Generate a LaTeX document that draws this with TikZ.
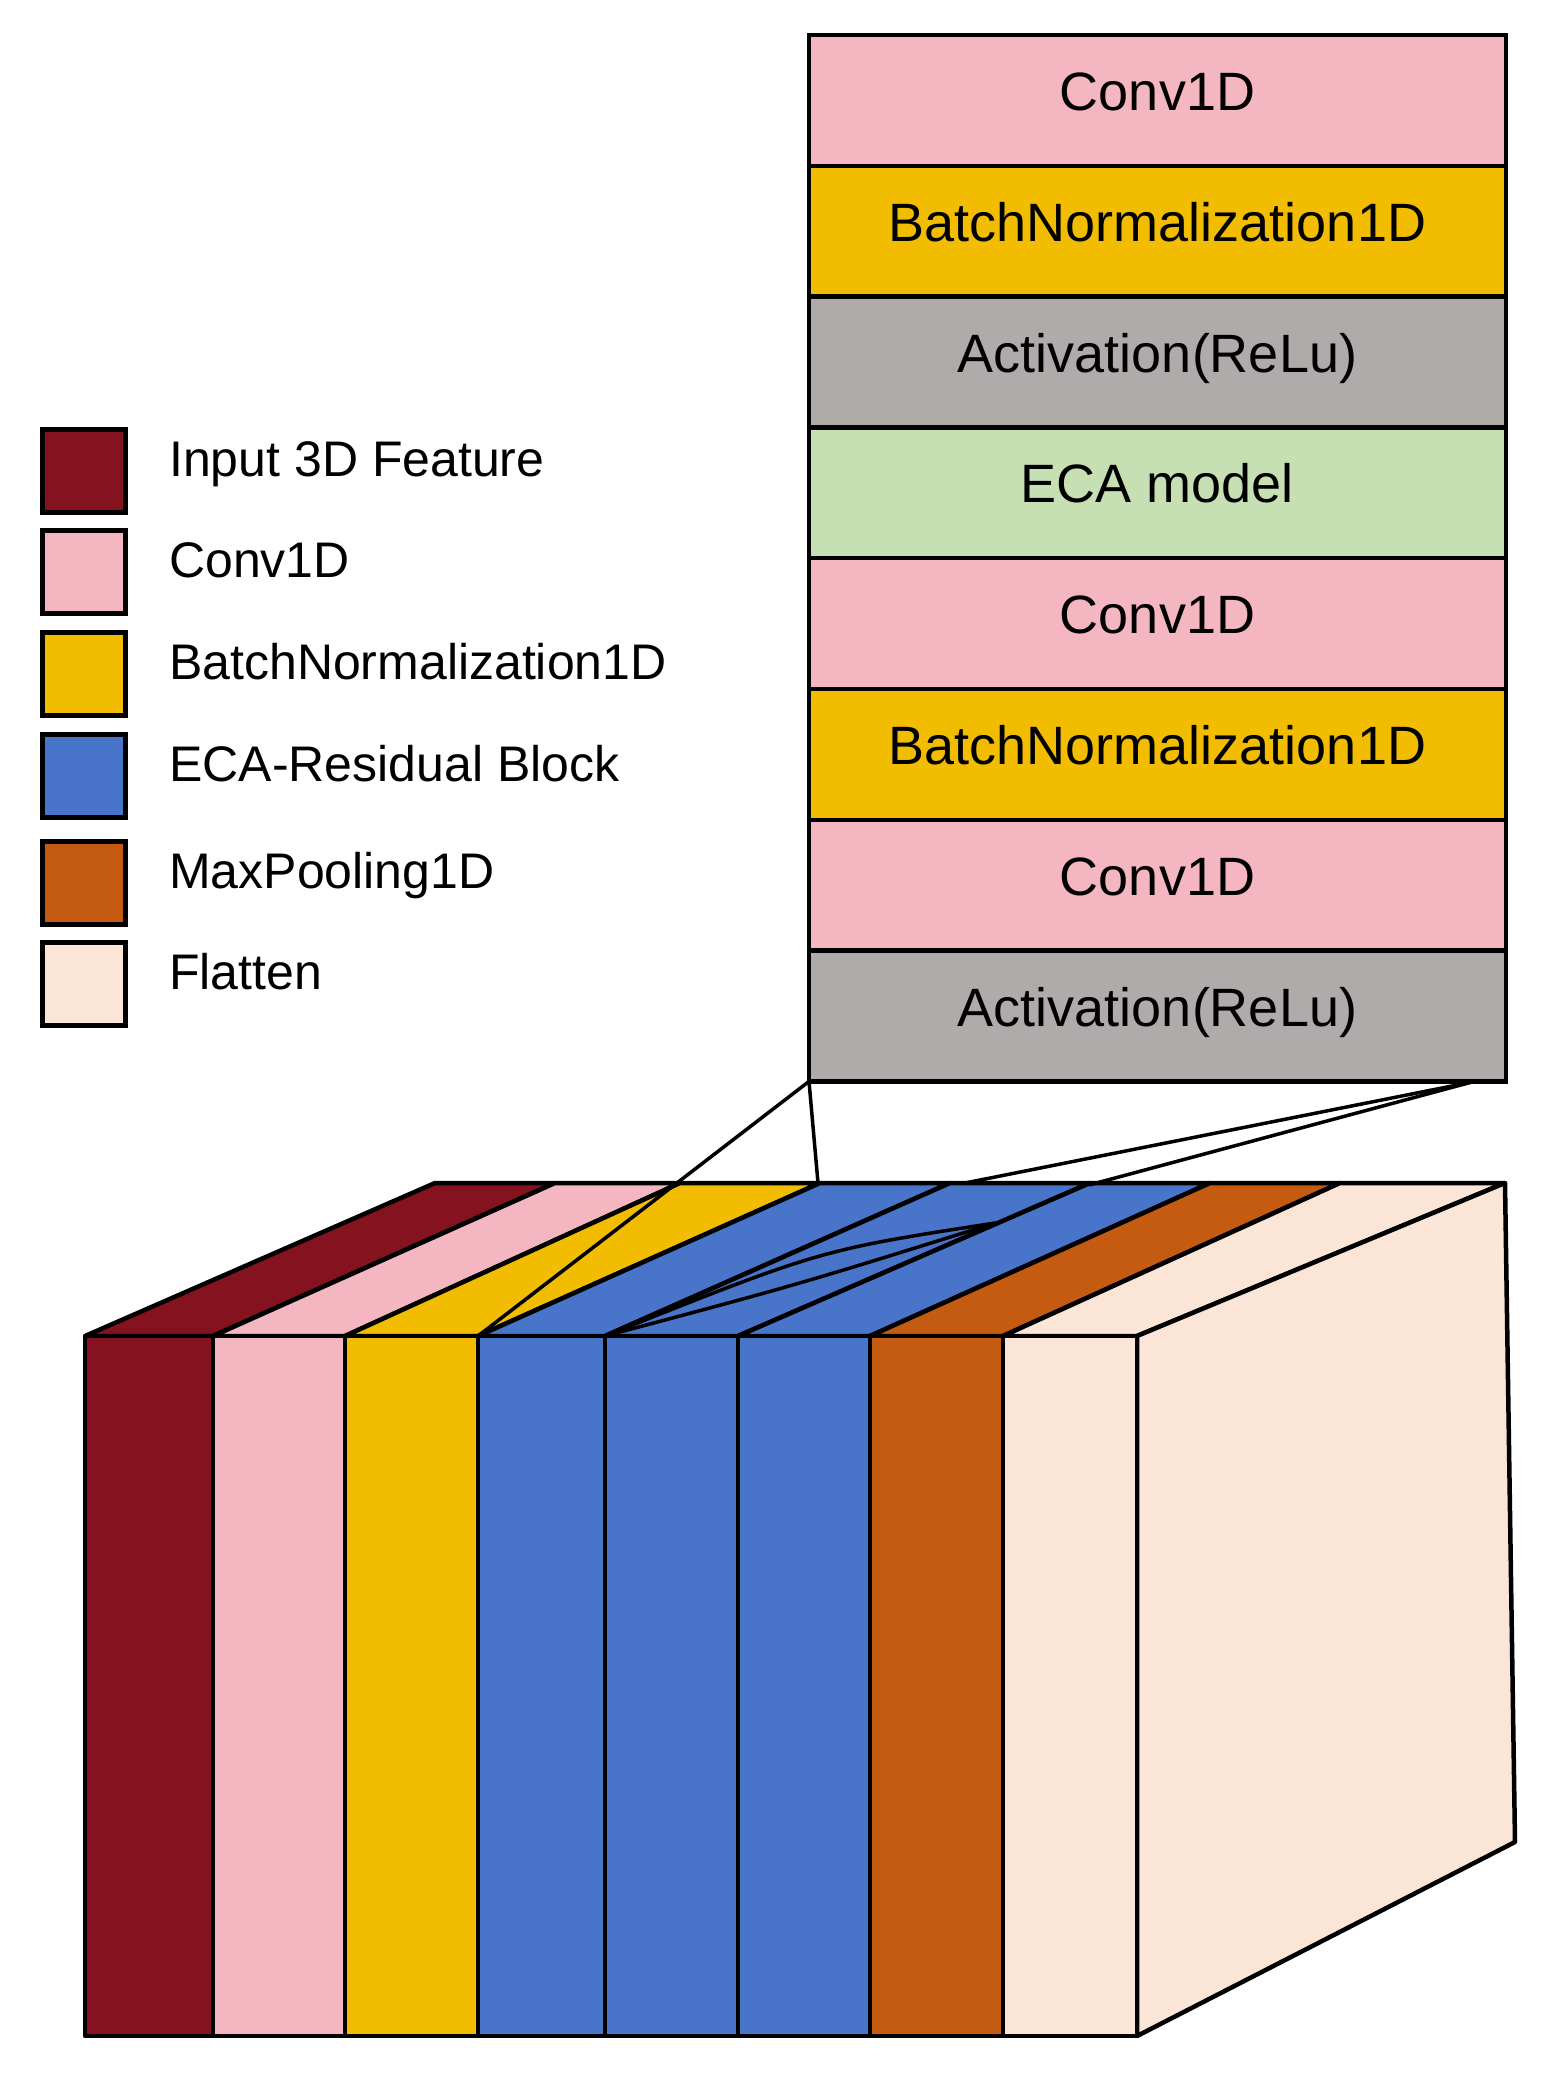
\documentclass[tikz,border=0pt]{standalone}
\usepackage{fontspec}
\setmainfont{Liberation Sans}
\usetikzlibrary{positioning}
\definecolor{inred}{HTML}{85131F}
\definecolor{convpink}{HTML}{F4B6C0}
\definecolor{bnyellow}{HTML}{F2BC00}
\definecolor{actgray}{HTML}{AFABAB}
\definecolor{ecagreen}{HTML}{C6E0B4}
\definecolor{resblue}{HTML}{4874CA}
\definecolor{poolorange}{HTML}{C55A11}
\definecolor{flatcream}{HTML}{FBE5D6}
\tikzset{
  layer/.style={draw, line width=4.5pt, outer sep=0pt, inner sep=0pt,
    minimum width=697pt, minimum height=130.8pt,
    text height=38pt, text depth=18pt, font=\fontsize{54}{60}\selectfont},
  legbox/.style={draw, line width=5pt, minimum size=83pt, inner sep=0pt},
  legtext/.style={inner sep=0pt, text height=35pt, text depth=25pt,
    font=\fontsize{50}{56}\selectfont},
  slab/.style={draw, line width=4.5pt, line join=round},
  link/.style={line width=3.5pt}
}
\begin{document}
\begin{tikzpicture}[x=1pt, y=-1pt]
			\useasboundingbox (0,0) rectangle (1546,2074);
			% legend
			\node[legbox, fill=inred] (lg1) at (84,471) {};
			\node[legbox, fill=convpink] (lg2) at (84,572) {};
			\node[legbox, fill=bnyellow] (lg3) at (84,674) {};
			\node[legbox, fill=resblue] (lg4) at (84,776) {};
			\node[legbox, fill=poolorange] (lg5) at (84,883) {};
			\node[legbox, fill=flatcream] (lg6) at (84,984) {};
			\node[legtext, right=41pt of lg1] (lt1) {Input 3D Feature};
			\node[legtext, right=41pt of lg2] (lt2) {Conv1D};
			\node[legtext, right=41pt of lg3] (lt3) {BatchNormalization1D};
			\node[legtext, right=41pt of lg4] (lt4) {ECA-Residual Block};
			\node[legtext, right=41pt of lg5] (lt5) {MaxPooling1D};
			\node[legtext, right=41pt of lg6] (lt6) {Flatten};
			% ECA-residual block, layer by layer
			\node[layer, fill=convpink] (r1) at (1157.5,100.4) {Conv1D};
			\node[layer, fill=bnyellow, below=0pt of r1] (r2) {BatchNormalization1D};
			\node[layer, fill=actgray, below=0pt of r2] (r3) {Activation(ReLu)};
			\node[layer, fill=ecagreen, below=0pt of r3] (r4) {ECA model};
			\node[layer, fill=convpink, below=0pt of r4] (r5) {Conv1D};
			\node[layer, fill=bnyellow, below=0pt of r5] (r6) {BatchNormalization1D};
			\node[layer, fill=convpink, below=0pt of r6] (r7) {Conv1D};
			\node[layer, fill=actgray, below=0pt of r7] (r8) {Activation(ReLu)};
			% top faces of the network block
			\path[slab, fill=inred] (85,1336) -- (435,1183) -- (555,1183) -- (213,1336) -- cycle;
			\path[slab, fill=convpink] (213,1336) -- (555,1183) -- (680,1183) -- (345,1336) -- cycle;
			\path[slab, fill=bnyellow] (345,1336) -- (680,1183) -- (820,1183) -- (478,1336) -- cycle;
			\path[slab, fill=resblue] (478,1336) -- (820,1183) -- (950,1183) -- (605,1336) -- cycle;
			\path[slab, fill=resblue] (605,1336) -- (950,1183) -- (1090,1183) -- (738,1336) -- cycle;
			\path[slab, fill=resblue] (738,1336) -- (1090,1183) -- (1210,1183) -- (870,1336) -- cycle;
			\path[slab, fill=poolorange] (870,1336) -- (1210,1183) -- (1340,1183) -- (1003,1336) -- cycle;
			\path[slab, fill=flatcream] (1003,1336) -- (1340,1183) -- (1505,1183) -- (1137,1336) -- cycle;
			% side face
			\path[slab, fill=flatcream] (1137,1336) -- (1505,1183) -- (1515,1842) -- (1137,2036) -- cycle;
			% front faces
			\path[slab, fill=inred] (85,1336) rectangle (213,2036);
			\path[slab, fill=convpink] (213,1336) rectangle (345,2036);
			\path[slab, fill=bnyellow] (345,1336) rectangle (478,2036);
			\path[slab, fill=resblue] (478,1336) rectangle (605,2036);
			\path[slab, fill=resblue] (605,1336) rectangle (738,2036);
			\path[slab, fill=resblue] (738,1336) rectangle (870,2036);
			\path[slab, fill=poolorange] (870,1336) rectangle (1003,2036);
			\path[slab, fill=flatcream] (1003,1336) rectangle (1137,2036);
			% zoom lines
			\coordinate (b1front) at (478,1336);
			\coordinate (b1back) at (818,1183);
			\coordinate (b2front) at (605,1336);
			\coordinate (backA) at (965,1183);
			\coordinate (backB) at (1089,1185);
			\coordinate (lensS) at (995,1223);
			\coordinate (pR) at (1472,1082);
			\draw[link] (r8.south west) -- (b1front);
			\draw[link] (r8.south west) -- (b1back);
			\draw[link] (pR) -- (backA);
			\draw[link] (pR) -- (backB);
			\draw[link] (lensS) .. controls (820,1250) .. (b2front);
			\draw[link] (lensS) .. controls (800,1284) .. (b2front);
		\end{tikzpicture}
\end{document}
